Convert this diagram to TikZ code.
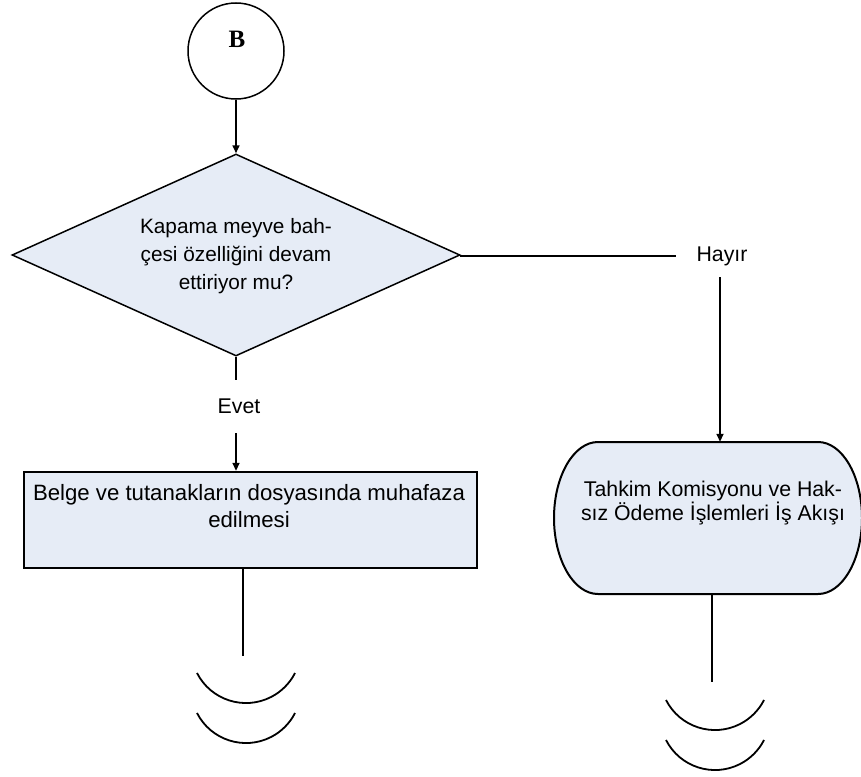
\documentclass[tikz,border=0pt]{standalone}
\usepackage{fontspec}
\setmainfont{Liberation Sans}
\newfontfamily\serifB{Liberation Serif}
\usetikzlibrary{shapes.geometric,arrows.meta}
\definecolor{boxfill}{RGB}{230,236,246}
\tikzset{
  txt/.style={font=\fontsize{21.3}{27}\selectfont, align=center, inner sep=0pt},
  conn/.style={line width=1.6pt},
  arr/.style={line width=1.6pt, -{Triangle[length=8pt,width=7pt]}},
  tail/.style={line width=1.8pt},
}
\begin{document}
\begin{tikzpicture}[x=1pt,y=-1pt]
\useasboundingbox (0,0) rectangle (861,776);
% start circle
\node[circle, draw, line width=1.5pt, minimum size=96pt, inner sep=0pt] (start) at (236,51) {};
\node[font=\serifB\bfseries\fontsize{25}{25}\selectfont, inner sep=0pt] (blabel) at (237,39) {B};
% decision
\node[diamond, draw, line width=1.5pt, fill=boxfill, inner sep=0pt, minimum width=448pt, minimum height=202pt] (dia) at (236,255) {};
\node[txt, font=\fontsize{20.8}{28}\selectfont] (diatext) at (236,256) {Kapama meyve bah-\\çesi özelliğini devam\\ettiriyor mu?};
\draw[arr] (start.south -| dia.north) -- (dia.north);
% Hayir branch
\node[txt] (hayir) at (722,256) {Hayır};
\draw[conn] (dia.east) -- (676,256 -| dia.east) -- (676,256);
\coordinate (hdown) at (720,277);
% terminal
\node[minimum width=308pt, minimum height=152pt, inner sep=0pt] (term) at (708,518) {};
\draw[line width=2pt, fill=boxfill]
  (598,442) -- (818,442)
  arc[start angle=-90, end angle=90, x radius=44, y radius=76]
  -- (598,594)
  arc[start angle=90, end angle=270, x radius=44, y radius=76] -- cycle;
\node[txt, font=\fontsize{21.3}{22}\selectfont] (termtext) at (713,503) {Tahkim Komisyonu ve Hak-\\sız Ödeme İşlemleri İş Akışı};
\draw[arr] (hdown) -- (hdown |- term.north);
% Evet branch
\node[txt] (evet) at (239,406) {Evet};
\coordinate (e1) at (236,380);
\coordinate (e2) at (236,433);
\draw[conn] (dia.south) -- (e1);
\node[draw, line width=2.4pt, fill=boxfill, minimum width=453pt, minimum height=96pt, inner sep=0pt] (rect) at (250.5,520) {};
\node[txt, font=\fontsize{22.2}{27}\selectfont] (recttext) at (249,506) {Belge ve tutanakların dosyasında muhafaza\\edilmesi};
\draw[arr] (e2) -- (e2 |- rect.north);
% tails
\coordinate (t1) at (243,656);
\draw[tail] (rect.south -| t1) -- (t1);
\draw[line width=1.8pt] (197,673) arc[start angle=153, end angle=27, radius=55];
\draw[line width=1.8pt] (197,713) arc[start angle=153, end angle=27, radius=55];
\coordinate (t2) at (712,682);
\draw[tail] (t2 |- term.south) -- (t2);
\draw[line width=1.8pt] (666,700) arc[start angle=153, end angle=27, radius=55];
\draw[line width=1.8pt] (666,740) arc[start angle=153, end angle=27, radius=55];
\end{tikzpicture}
\end{document}
